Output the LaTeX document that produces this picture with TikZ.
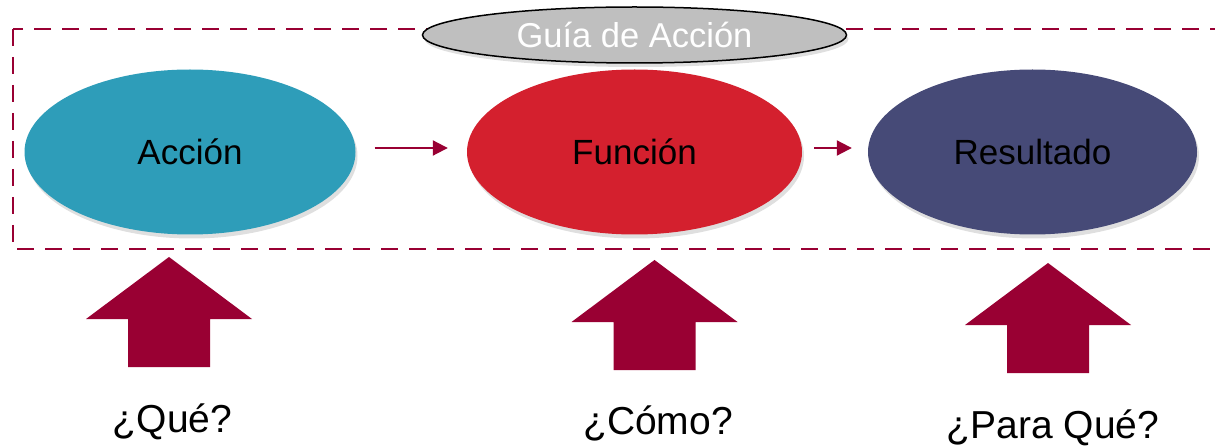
\documentclass[tikz,border=0pt]{standalone}
\usepackage{fontspec}
\setmainfont{Liberation Sans}
\usetikzlibrary{shapes.geometric,shadows,arrows.meta}
\definecolor{wine}{HTML}{990033}
\definecolor{cAccion}{HTML}{2E9DB9}
\definecolor{cFuncion}{HTML}{D4202E}
\definecolor{cResult}{HTML}{464A77}
\definecolor{cGuia}{HTML}{BFBFBF}
\tikzset{
  uparrow/.pic={\fill[wine] (0,0) -- (83,62) -- (41,62) -- (41,110) -- (-41,110) -- (-41,62) -- (-83,62) -- cycle;}
}
\begin{document}
\begin{tikzpicture}[x=1pt,y=-1pt,
  oval/.style={ellipse, minimum width=331pt, minimum height=165pt, inner sep=0pt,
    font=\fontsize{35}{40}\selectfont, text=black,
    drop shadow={shadow xshift=2pt, shadow yshift=-4pt, opacity=0.25}},
  guiastyle/.style={ellipse, minimum width=424pt, minimum height=56pt, inner sep=0pt,
    draw=black, line width=1.5pt, fill=cGuia, text=white,
    font=\fontsize{34.5}{38}\selectfont,
    drop shadow={shadow xshift=2pt, shadow yshift=-4pt, opacity=0.25}},
  flow/.style={draw=wine, line width=2pt, -{Triangle[length=15pt,width=15pt]}},
  ask/.style={font=\fontsize{39}{44}\selectfont, anchor=base, text=black}]
\useasboundingbox (0,0) rectangle (1215,446);
\draw[wine, line width=2.8pt, dash pattern=on 17pt off 11pt] (13,29) rectangle (1240,249);
\node[oval, fill=cAccion] (accion) at (190,152) {Acción};
\node[oval, fill=cFuncion, minimum width=335pt] (funcion) at (634.5,152) {Función};
\node[oval, fill=cResult, minimum width=329pt] (resultado) at (1032.5,152) {Resultado};
\node[guiastyle] (guia) at (634.5,35) {Guía de Acción};
\draw[flow, shorten <=19pt, shorten >=19pt] ([yshift=4pt]accion.east) -- ([yshift=4pt]funcion.west);
\draw[flow, shorten <=12pt, shorten >=16pt] ([yshift=4pt]funcion.east) -- ([yshift=4pt]resultado.west);
\pic at (169,257) {uparrow};
\pic at (654.5,260) {uparrow};
\pic at (1048,263) {uparrow};
\node[ask] (que) at (172.5,432) {¿Qué?};
\node[ask] (como) at (658,434) {¿Cómo?};
\node[ask] (para) at (1053,438) {¿Para Qué?};
\end{tikzpicture}
\end{document}
